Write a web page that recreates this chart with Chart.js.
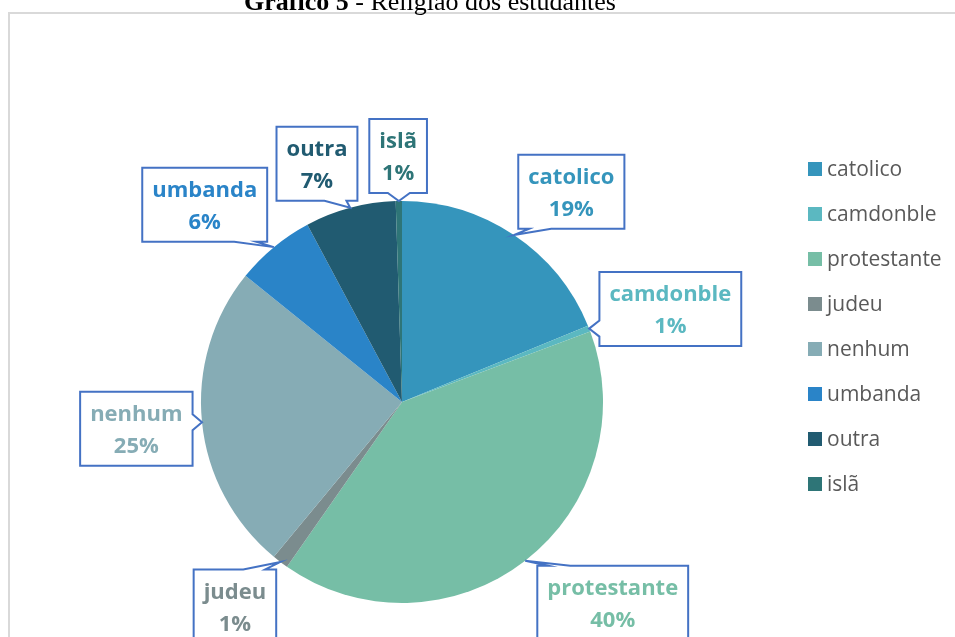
<!DOCTYPE html>
<html>
<head>
<meta charset="utf-8">
<script src="https://cdn.jsdelivr.net/npm/chart.js@4"></script>
<style>
  html, body { margin: 0; padding: 0; background: #ffffff; }
  #wrap { width: 955px; height: 637px; position: relative; overflow: hidden; }
  canvas { display: block; }
</style>
</head>
<body>
<div id="wrap"><canvas id="c" width="955" height="637"></canvas></div>
<script>
// ---- data ----
const categories = ['catolico', 'camdonble', 'protestante', 'judeu', 'nenhum', 'umbanda', 'outra', 'islã'];
const shares = [18.8, 0.5, 40.4, 1.3, 24.8, 6.4, 7.3, 0.5];   // percent of students
const titleBold = 'Gráfico 5';
const titleRest = ' - Religião dos estudantes';

// ---- styles ----
const sliceColors = ['#3595BC', '#5BB8C1', '#76BEA6', '#7B8C8E', '#86ACB5', '#2A84C8', '#215B71', '#2E7577'];
// callout placement: [distance from centre, angle shift in degrees from slice mid-angle]
const calloutPlacement = [[270, 5], [284, 2.3], [291, -8.6], [264, 2], [267, 0], [279, -5.4], [253, -4.7], [246, 0]];

const decorPlugin = {
  id: 'decor',
  beforeDraw(chart) {
    const ctx = chart.ctx;
    ctx.save();
    ctx.fillStyle = '#ffffff';
    ctx.fillRect(0, 0, chart.width, chart.height);
    ctx.strokeStyle = '#d9d9d9';
    ctx.lineWidth = 2;
    ctx.strokeRect(9, 13, 1000, 700);
    ctx.restore();
  },
  afterDraw(chart) {
    const ctx = chart.ctx;
    ctx.save();
    // title (cut off at top as in reference)
    ctx.fillStyle = '#000000';
    ctx.textBaseline = 'alphabetic';
    ctx.font = 'bold 26px "Liberation Serif"';
    const wb = ctx.measureText(titleBold).width;
    ctx.font = '26px "Liberation Serif"';
    const wr = ctx.measureText(titleRest).width;
    let tx = 430 - (wb + wr) / 2;
    ctx.font = 'bold 26px "Liberation Serif"';
    ctx.fillText(titleBold, tx, 10);
    ctx.font = '26px "Liberation Serif"';
    ctx.fillText(titleRest, tx + wb, 10);

    // legend
    ctx.font = '21px "Open Sans"';
    ctx.textBaseline = 'middle';
    categories.forEach((name, i) => {
      const y = 169 + i * 45;
      ctx.fillStyle = sliceColors[i];
      ctx.fillRect(808, y - 7, 14, 14);
      ctx.fillStyle = '#595959';
      ctx.fillText(name, 827, y + 1);
    });

    // callouts
    const meta = chart.getDatasetMeta(0);
    const total = shares.reduce((a, b) => a + b, 0);
    meta.data.forEach((arc, i) => {
      const p = arc.getProps(['x', 'y', 'startAngle', 'endAngle', 'outerRadius'], true);
      const mid = (p.startAngle + p.endAngle) / 2;
      const tip = { x: p.x + Math.cos(mid) * p.outerRadius, y: p.y + Math.sin(mid) * p.outerRadius };
      const [dist, shift] = calloutPlacement[i];
      const a = mid + shift * Math.PI / 180;
      const cx = p.x + Math.cos(a) * dist;
      const cy = p.y + Math.sin(a) * dist;
      const line1 = categories[i];
      const line2 = Math.round(shares[i] / total * 100) + '%';
      ctx.font = 'bold 22px "Open Sans"';
      const tw = Math.max(ctx.measureText(line1).width, ctx.measureText(line2).width);
      const w = tw + 20, h = 74;
      const L = cx - w / 2, R = cx + w / 2, T = cy - h / 2, B = cy + h / 2;
      const clamp = (v, lo, hi) => Math.max(lo, Math.min(hi, v));
      ctx.beginPath();
      ctx.moveTo(L, T);
      if (tip.y < T) {
        const c = clamp(tip.x, L + 22, R - 22);
        ctx.lineTo(c - 11, T); ctx.lineTo(tip.x, tip.y); ctx.lineTo(c + 11, T);
      }
      ctx.lineTo(R, T);
      if (tip.y >= T && tip.y <= B && tip.x > R) {
        const c = clamp(tip.y, T + 16, B - 16);
        ctx.lineTo(R, c - 8); ctx.lineTo(tip.x, tip.y); ctx.lineTo(R, c + 8);
      }
      ctx.lineTo(R, B);
      if (tip.y > B) {
        const c = clamp(tip.x, L + 22, R - 22);
        ctx.lineTo(c + 11, B); ctx.lineTo(tip.x, tip.y); ctx.lineTo(c - 11, B);
      }
      ctx.lineTo(L, B);
      if (tip.y >= T && tip.y <= B && tip.x < L) {
        const c = clamp(tip.y, T + 16, B - 16);
        ctx.lineTo(L, c + 8); ctx.lineTo(tip.x, tip.y); ctx.lineTo(L, c - 8);
      }
      ctx.closePath();
      ctx.fillStyle = '#ffffff';
      ctx.fill();
      ctx.strokeStyle = '#4472C4';
      ctx.lineWidth = 2;
      ctx.lineJoin = 'miter';
      ctx.stroke();
      ctx.fillStyle = sliceColors[i];
      ctx.textAlign = 'center';
      ctx.textBaseline = 'middle';
      ctx.fillText(line1, cx, cy - 14);
      ctx.fillText(line2, cx, cy + 18);
      ctx.textAlign = 'left';
    });
    ctx.restore();
  }
};

new Chart(document.getElementById('c'), {
  type: 'pie',
  data: {
    labels: categories,
    datasets: [{
      data: shares,
      backgroundColor: sliceColors,
      borderWidth: 0
    }]
  },
  options: {
    responsive: false,
    animation: false,
    devicePixelRatio: 1,
    layout: { padding: { left: 201, top: 201, right: 352, bottom: 34 } },
    plugins: {
      legend: { display: false },
      title: { display: false },
      tooltip: { enabled: false }
    }
  },
  plugins: [decorPlugin]
});
</script>
</body>
</html>
